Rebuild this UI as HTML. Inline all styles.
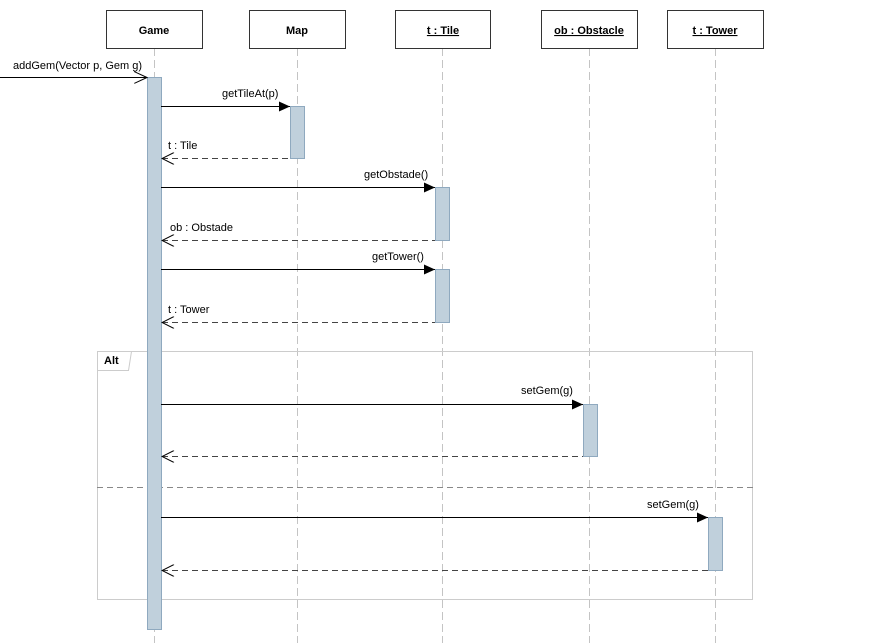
<!DOCTYPE html>
<html><head><meta charset="utf-8"><style>
html,body{margin:0;padding:0;background:#fff;}
svg{display:block;font-family:"Liberation Sans",sans-serif;}
.h{font-size:11px;font-weight:bold;fill:#000;}
.l{font-size:11px;fill:#000;}
</style></head><body>
<svg width="881" height="643" viewBox="0 0 881 643">
<defs>
<marker id="fa" markerWidth="12" markerHeight="10" refX="11" refY="5" orient="auto" markerUnits="userSpaceOnUse"><path d="M0,0 L11,5 L0,10 z" fill="#000"/></marker>
<marker id="oa" markerWidth="14" markerHeight="12" refX="13" refY="6" orient="auto" markerUnits="userSpaceOnUse"><path d="M0,0 L13,6 L0,12" fill="none" stroke="#000" stroke-width="1"/></marker>
<marker id="ob" markerWidth="14" markerHeight="12" refX="1" refY="6" orient="auto" markerUnits="userSpaceOnUse"><path d="M13,0 L1,6 L13,12" fill="none" stroke="#000" stroke-width="1"/></marker>
</defs>
<g stroke="#c4c4c4" stroke-width="1" stroke-dasharray="8,4">
<line x1="154.5" y1="48" x2="154.5" y2="643"/>
<line x1="297.5" y1="48" x2="297.5" y2="643"/>
<line x1="442.5" y1="48" x2="442.5" y2="643"/>
<line x1="589.5" y1="48" x2="589.5" y2="643"/>
<line x1="715.5" y1="48" x2="715.5" y2="643"/>
</g>
<rect x="97.5" y="351.5" width="655" height="248" fill="none" stroke="#ccc" stroke-width="1"/>
<path d="M97.5,370.5 L128.5,370.5 L131.5,351.5" fill="#fff" stroke="#ccc"/>
<text x="104" y="364" class="h">Alt</text>
<line x1="97" y1="487.5" x2="753" y2="487.5" stroke="#888" stroke-dasharray="6,4"/>
<g fill="#fff" stroke="#333" stroke-width="1">
<rect x="106.5" y="10.5" width="96" height="38"/>
<rect x="249.5" y="10.5" width="96" height="38"/>
<rect x="395.5" y="10.5" width="95" height="38"/>
<rect x="541.5" y="10.5" width="96" height="38"/>
<rect x="667.5" y="10.5" width="96" height="38"/>
</g>
<g class="h" text-anchor="middle">
<text x="154" y="34">Game</text>
<text x="297" y="34">Map</text>
<text x="443" y="34" text-decoration="underline">t : Tile</text>
<text x="589" y="34" text-decoration="underline">ob : Obstacle</text>
<text x="715" y="34" text-decoration="underline">t : Tower</text>
</g>
<g fill="#c0d0dc" stroke="#8fa9bf" stroke-width="1">
<rect x="147.5" y="77.5" width="14" height="552"/>
<rect x="290.5" y="106.5" width="14" height="52"/>
<rect x="435.5" y="187.5" width="14" height="53"/>
<rect x="435.5" y="269.5" width="14" height="53"/>
<rect x="583.5" y="404.5" width="14" height="52"/>
<rect x="708.5" y="517.5" width="14" height="53"/>
</g>
<g stroke="#000" stroke-width="1" fill="none">
<line x1="0" y1="77.5" x2="147" y2="77.5" marker-end="url(#oa)"/>
<line x1="161" y1="106.5" x2="290" y2="106.5" marker-end="url(#fa)"/>
<line x1="162" y1="158.5" x2="290" y2="158.5" stroke="#444" stroke-dasharray="6,4" marker-start="url(#ob)"/>
<line x1="161" y1="187.5" x2="435" y2="187.5" marker-end="url(#fa)"/>
<line x1="162" y1="240.5" x2="435" y2="240.5" stroke="#444" stroke-dasharray="6,4" marker-start="url(#ob)"/>
<line x1="161" y1="269.5" x2="435" y2="269.5" marker-end="url(#fa)"/>
<line x1="162" y1="322.5" x2="435" y2="322.5" stroke="#444" stroke-dasharray="6,4" marker-start="url(#ob)"/>
<line x1="161" y1="404.5" x2="583" y2="404.5" marker-end="url(#fa)"/>
<line x1="162" y1="456.5" x2="583" y2="456.5" stroke="#444" stroke-dasharray="6,4" marker-start="url(#ob)"/>
<line x1="161" y1="517.5" x2="708" y2="517.5" marker-end="url(#fa)"/>
<line x1="162" y1="570.5" x2="708" y2="570.5" stroke="#444" stroke-dasharray="6,4" marker-start="url(#ob)"/>
</g>
<g class="l">
<text x="13" y="69">addGem(Vector p, Gem g)</text>
<text x="222" y="97">getTileAt(p)</text>
<text x="168" y="149">t : Tile</text>
<text x="364" y="178">getObstade()</text>
<text x="170" y="231">ob : Obstade</text>
<text x="372" y="260">getTower()</text>
<text x="168" y="313">t : Tower</text>
<text x="521" y="394">setGem(g)</text>
<text x="647" y="508">setGem(g)</text>
</g>
</svg>
</body></html>
